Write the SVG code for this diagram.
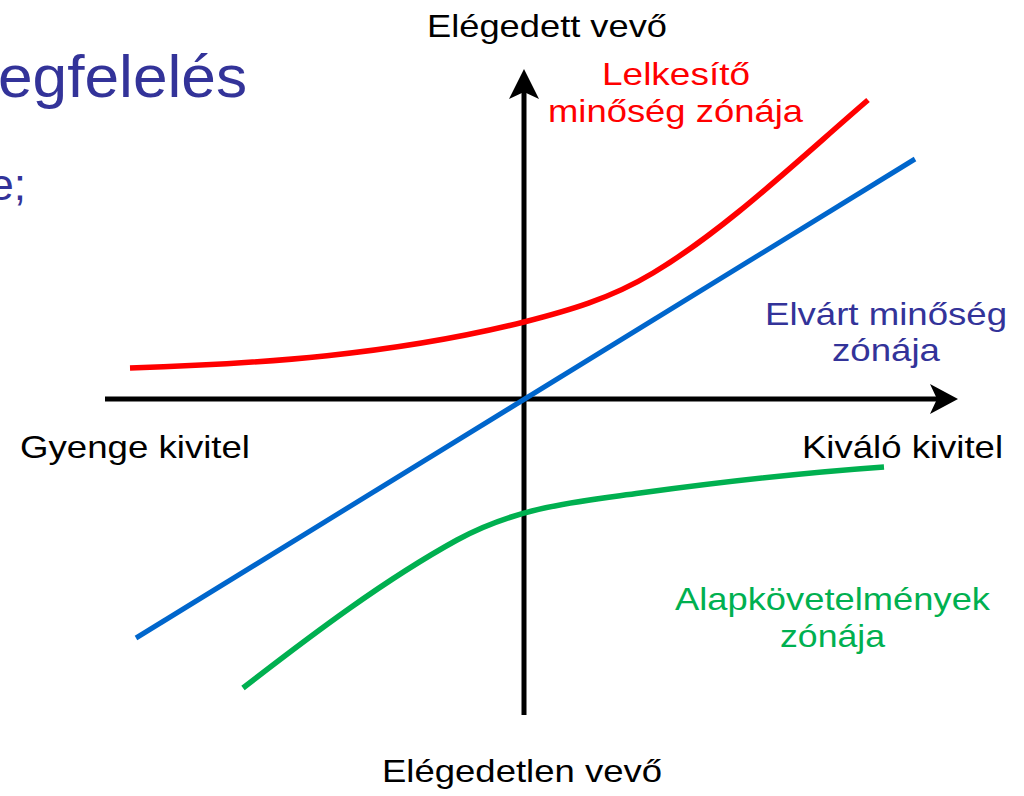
<svg xmlns="http://www.w3.org/2000/svg" width="1024" height="796" viewBox="0 0 1024 796">
  <style>
    .lbl { font-family: "Liberation Sans", Arial, sans-serif; font-size: 32px; }
    .blk { fill: #000000; }
    .red { fill: #FF0000; }
    .pur { fill: #333399; }
    .grn { fill: #00B050; }
    .axis { stroke: #000000; stroke-width: 5; fill: none; }
    .curve { fill: none; stroke-linecap: butt; }
  </style>
  <rect width="1024" height="796" fill="#FFFFFF"/>

  <g id="title">
    <text class="lbl pur" x="-2" y="97" style="font-size:60px" textLength="249" lengthAdjust="spacingAndGlyphs">egfelelés</text>
    <text class="lbl pur" x="26" y="200" style="font-size:44px" text-anchor="end">e;</text>
  </g>

  <g id="connectors">
    <g id="axis-x">
      <line class="axis" x1="105" y1="399" x2="940" y2="399"/>
      <polygon points="958,399 930,384 937,399 930,414" fill="#000000"/>
    </g>
    <g id="axis-y">
      <line class="axis" x1="524" y1="715" x2="524" y2="88"/>
      <polygon points="524,69 509,99 524,92 539,99" fill="#000000"/>
    </g>
    <path id="curve-excite" class="curve" stroke="#FF0000" stroke-width="5.5"
      d="M130,368 C260,364 394,354.5 524,322 C567,311 610,299 653,273 C725,230 796,162 868,100"/>
    <line id="line-expected" x1="136" y1="638" x2="915" y2="159" stroke="#0066CC" stroke-width="5"/>
    <path id="curve-basic" class="curve" stroke="#00B050" stroke-width="5.5"
      d="M243,688 C314,633 386,579 457,540 C518,506.5 579,501.5 640,493 C721,482 803,472.7 884,467"/>
  </g>

  <g id="label-top">
    <text class="lbl blk" x="427" y="37" textLength="240" lengthAdjust="spacingAndGlyphs">Elégedett vevő</text>
  </g>
  <g id="label-bottom">
    <text class="lbl blk" x="382" y="782" textLength="280" lengthAdjust="spacingAndGlyphs">Elégedetlen vevő</text>
  </g>
  <g id="label-left">
    <text class="lbl blk" x="20" y="458" textLength="230" lengthAdjust="spacingAndGlyphs">Gyenge kivitel</text>
  </g>
  <g id="label-right">
    <text class="lbl blk" x="802" y="458" textLength="201" lengthAdjust="spacingAndGlyphs">Kiváló kivitel</text>
  </g>
  <g id="label-excite">
    <text class="lbl red" x="602" y="85" textLength="148" lengthAdjust="spacingAndGlyphs">Lelkesítő</text>
    <text class="lbl red" x="548" y="122" textLength="255" lengthAdjust="spacingAndGlyphs">minőség zónája</text>
  </g>
  <g id="label-expected">
    <text class="lbl pur" x="765" y="325" textLength="242" lengthAdjust="spacingAndGlyphs">Elvárt minőség</text>
    <text class="lbl pur" x="832" y="361" textLength="108" lengthAdjust="spacingAndGlyphs">zónája</text>
  </g>
  <g id="label-basic">
    <text class="lbl grn" x="675" y="610" textLength="315" lengthAdjust="spacingAndGlyphs">Alapkövetelmények</text>
    <text class="lbl grn" x="780" y="647" textLength="105" lengthAdjust="spacingAndGlyphs">zónája</text>
  </g>
</svg>
